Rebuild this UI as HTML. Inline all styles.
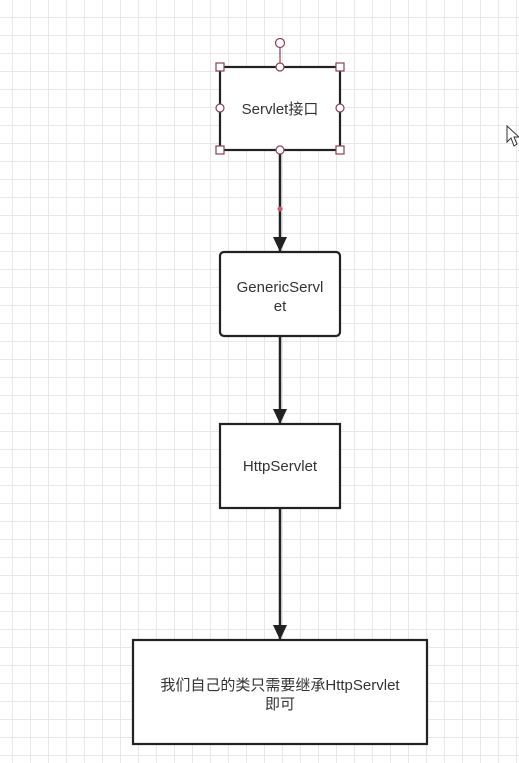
<!DOCTYPE html>
<html><head><meta charset="utf-8"><style>
html,body{margin:0;padding:0;background:#fff;}
svg{display:block;}
text{font-family:"Liberation Sans","Noto Sans CJK SC",sans-serif;fill:#333;}
</style></head><body>
<svg width="519" height="763" viewBox="0 0 519 763" xmlns="http://www.w3.org/2000/svg">
<defs>
<pattern id="g" x="12" y="17" width="18" height="18" patternUnits="userSpaceOnUse">
<path d="M0 0V18M0 0H18" stroke="#e8e8e8" stroke-width="2" fill="none"/>
</pattern>
</defs>
<rect width="519" height="763" fill="#fff"/>
<rect width="519" height="763" fill="url(#g)"/>
<line x1="280" y1="150" x2="280" y2="640" stroke="#222" stroke-width="2.5"/>
<polygon points="273,237 287,237 280,252" fill="#222"/>
<polygon points="273,409 287,409 280,424" fill="#222"/>
<polygon points="273,625 287,625 280,640" fill="#222"/>
<circle cx="280" cy="209" r="2.5" fill="#c95a72"/>
<rect x="220" y="67" width="120" height="83" fill="#fff" stroke="#222" stroke-width="2.2"/>
<text x="280" y="114" font-size="15" text-anchor="middle">Servlet接口</text>
<rect x="220" y="252" width="120" height="84" rx="4" fill="#fff" stroke="#222" stroke-width="2.2"/>
<text x="280" y="292" font-size="15" text-anchor="middle">GenericServl</text>
<text x="280" y="311" font-size="15" text-anchor="middle">et</text>
<rect x="220" y="424" width="120" height="84" fill="#fff" stroke="#222" stroke-width="2.2"/>
<text x="280" y="471" font-size="15" text-anchor="middle">HttpServlet</text>
<rect x="133" y="640" width="294" height="104" fill="#fff" stroke="#222" stroke-width="2.2"/>
<text x="280" y="690" font-size="15" text-anchor="middle">我们自己的类只需要继承HttpServlet</text>
<text x="280" y="709" font-size="15" text-anchor="middle">即可</text>
<g fill="#fff" stroke="#8a4050" stroke-width="1.2">
<line x1="280" y1="48" x2="280" y2="67" stroke="#8a4050"/>
<circle cx="280" cy="43" r="4.5"/>
<circle cx="280" cy="67" r="4"/>
<circle cx="280" cy="150" r="4"/>
<circle cx="220" cy="108" r="4"/>
<circle cx="340" cy="108" r="4"/>
<rect x="216" y="63" width="8" height="8"/>
<rect x="336" y="63" width="8" height="8"/>
<rect x="216" y="146" width="8" height="8"/>
<rect x="336" y="146" width="8" height="8"/>
</g>
<path d="M507 126 L507 142 L511 138 L514 146 L517 144 L514 137 L519 137 Z" fill="#fff" stroke="#333" stroke-width="1"/>
</svg>
</body></html>
